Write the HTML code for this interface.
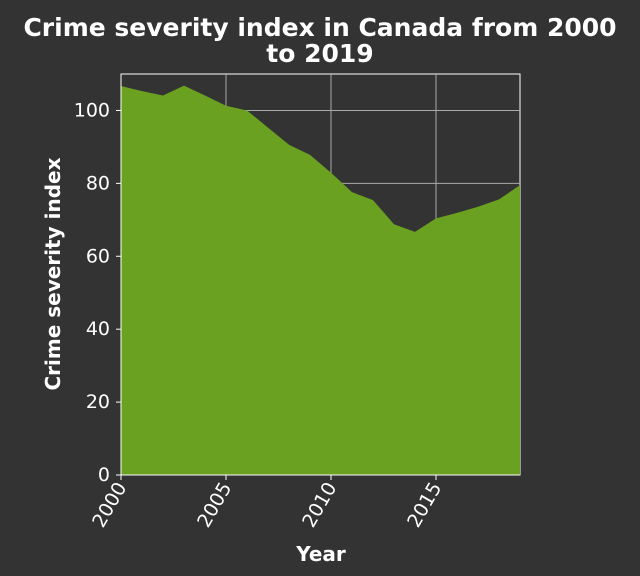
<!DOCTYPE html>
<html><head><meta charset="utf-8"><style>
body{margin:0;background:#333333;}
svg{display:block;font-family:"DejaVu Sans","Liberation Sans",sans-serif;}
</style></head><body>
<svg width="640" height="576">
<rect width="640" height="576" fill="#333333"/>
<text x="320" y="36" fill="#fff" font-size="25" font-weight="bold" text-anchor="middle">Crime severity index in Canada from 2000</text>
<text x="320" y="62" fill="#fff" font-size="25" font-weight="bold" text-anchor="middle">to 2019</text>
<g id="plot"></g>
<text x="321" y="561" fill="#fff" font-size="20" font-weight="bold" text-anchor="middle">Year</text>
<text transform="translate(60,274) rotate(-90)" fill="#fff" font-size="20" font-weight="bold" text-anchor="middle">Crime severity index</text>
</svg>
<script>
const years=[2000,2001,2002,2003,2004,2005,2006,2007,2008,2009,2010,2011,2012,2013,2014,2015,2016,2017,2018,2019];
const values=[106.7,105.3,104.1,106.8,104.1,101.3,100,95.3,90.6,87.8,82.9,77.6,75.4,68.8,66.7,70.4,71.9,73.6,75.6,79.5];
const xTicks=[2000,2005,2010,2015];
const yTicks=[0,20,40,60,80,100];
const L=121,R=520,T=74,B=475;
const x=v=>L+(v-2000)/19*(R-L);
const y=v=>B-v/110*(B-T);
const g=document.getElementById('plot');
const NS='http://www.w3.org/2000/svg';
function mk(t,a){const e=document.createElementNS(NS,t);for(const k in a)e.setAttribute(k,a[k]);g.appendChild(e);return e;}
let f=mk('rect',{x:L,y:T,width:R-L,height:B-T,fill:'#333333',stroke:'#fff','stroke-width':1});


xTicks.forEach(t=>{const l=mk('line',{x1:x(t),x2:x(t),y1:T,y2:B,stroke:'#aaa','stroke-width':1});

});
yTicks.forEach(t=>{const l=mk('line',{x1:L,x2:R,y1:y(t),y2:y(t),stroke:'#aaa','stroke-width':1});

});
let d='M'+x(years[0])+','+y(0);
years.forEach((yr,i)=>{d+=' L'+x(yr)+','+y(values[i]);});
d+=' L'+x(years[years.length-1])+','+y(0)+' Z';
const a=mk('path',{d:d,fill:'#6aa121'});


let ax=mk('line',{x1:L,x2:R,y1:B,y2:B,stroke:'#fff'});


let ay=mk('line',{x1:L,x2:L,y1:T,y2:B,stroke:'#fff'});


yTicks.forEach(t=>{const l=mk('line',{x1:L-5,x2:L,y1:y(t),y2:y(t),stroke:'#fff'});


const tx=mk('text',{x:L-11,y:y(t)+6,fill:'#fff','font-size':19,'text-anchor':'end'});tx.textContent=t;

});
xTicks.forEach(t=>{const l=mk('line',{x1:x(t),x2:x(t),y1:B,y2:B+5,stroke:'#fff'});


const tx=mk('text',{transform:`translate(${x(t)+6},${B+12}) rotate(-60)`,fill:'#fff','font-size':19,'text-anchor':'end'});tx.textContent=t;

});
</script>
</body></html>
